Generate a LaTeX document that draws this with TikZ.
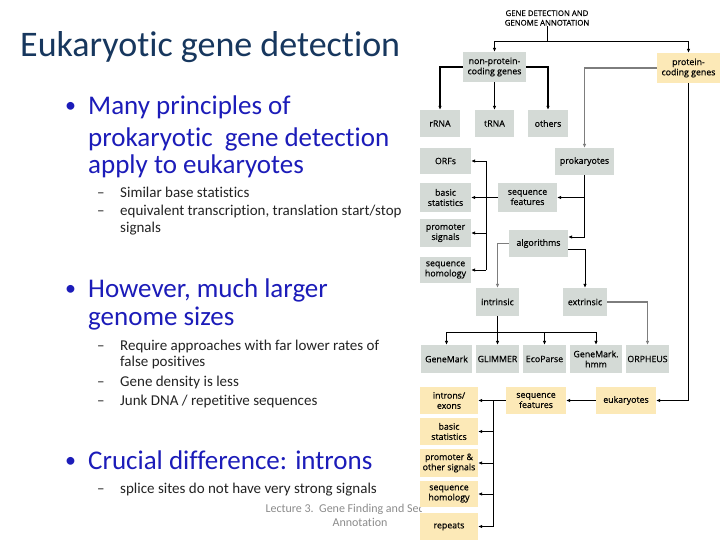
\documentclass[tikz,border=0pt]{standalone}
\usepackage{fontspec}
\setmainfont{Carlito}[Ligatures={NoCommon,NoContextual}]
\newfontfamily\diag{Open Sans}[FakeBold=0.4]
\usetikzlibrary{arrows.meta}
\definecolor{titlecol}{RGB}{23,55,94}
\definecolor{bulcol}{RGB}{28,28,185}
\definecolor{subcol}{RGB}{35,35,35}
\definecolor{footcol}{RGB}{140,140,140}
\definecolor{gboxcol}{RGB}{212,218,214}
\definecolor{yboxcol}{RGB}{252,233,183}
\definecolor{glinecol}{RGB}{125,125,125}
\begin{document}
\begin{tikzpicture}[x=1pt,y=-1pt,
  box/.style={inner sep=0pt, align=center, font=\diag\fontsize{8.8}{10.2}\selectfont, text=black},
  gbox/.style={box, fill=gboxcol},
  ybox/.style={box, fill=yboxcol},
  sz/.style 2 args={minimum width=#1, minimum height=#2},
  wire/.style={line width=0.9pt},
  conn/.style={wire, -{Latex[length=4pt,width=3.6pt]}},
  thick conn/.style={conn, line width=1.5pt},
  gconn/.style={conn, draw=glinecol, line width=1.2pt},
  ttl/.style={anchor=base west, inner sep=0pt, text=titlecol, font=\fontsize{36}{40}\selectfont},
  bul/.style={anchor=base west, inner sep=0pt, text=bulcol, font=\fontsize{27}{29}\selectfont},
  dotb/.style={anchor=base west, inner sep=0pt, text=bulcol, font=\fontsize{22}{29}\selectfont},
  sub/.style={anchor=base west, inner sep=0pt, text=subcol, font=\fontsize{15}{17}\selectfont},
  foot/.style={anchor=base, inner sep=0pt, text=footcol, font=\fontsize{12}{14}\selectfont},
]
\useasboundingbox[fill=white] (0,0) rectangle (720,540);

% ---------- slide text ----------
\node[ttl] (title) at (20,57) {Eukaryotic gene detection};

\node[dotb] (dot1) at (65,113) {•};
\node[bul] (b1a) at (88,115) {Many principles of};
\node[bul] (b1b) at (88,146.5) {prokaryotic\ \ gene detection};
\node[bul] (b1c) at (88,174) {apply to eukaryotes};
\node[sub] (d1) at (97,197) {–};
\node[sub] (s1) at (120,197) {Similar base statistics};
\node[sub] (d2) at (97,215) {–};
\node[sub] (s2) at (120,215) {equivalent transcription, translation start/stop};
\node[sub] (s3) at (120,233) {signals};

\node[dotb] (dot2) at (65,295) {•};
\node[bul] (b2a) at (88,297) {However, much larger};
\node[bul] (b2b) at (88,325) {genome sizes};
\node[sub] (d4) at (97,350) {–};
\node[sub] (s4) at (120,350) {Require approaches with far lower rates of};
\node[sub] (s5) at (120,366) {false positives};
\node[sub] (d6) at (97,386) {–};
\node[sub] (s6) at (120,386) {Gene density is less};
\node[sub] (d7) at (97,405) {–};
\node[sub] (s7) at (120,405) {Junk DNA / repetitive sequences};

\node[dotb] (dot3) at (65,467) {•};
\node[bul] (b3) at (88,469) {Crucial difference: introns};
\node[sub] (d8) at (97,493) {–};
\node[sub] (s8) at (120,493) {splice sites do not have very strong signals};

\begin{scope}
  \clip (0,0) rectangle (421,540);
  \node[foot] (f1) at (360,512) {Lecture 3.\ \ Gene Finding and Sequence};
\end{scope}
\node[foot] (f2) at (360,526) {Annotation};

% ---------- diagram ----------
\node[box, font=\diag\fontsize{7.8}{9.6}\selectfont] (top) at (547,18) {GENE DETECTION AND\\GENOME ANNOTATION};

\node[gbox, sz={63pt}{30pt}] (nonprot) at (494.5,67) {non-protein-\\coding genes};
\node[ybox, sz={63pt}{30pt}] (prot) at (688.5,68) {protein-\\coding genes};

\node[gbox, sz={40pt}{27pt}] (rrna) at (440,123.5) {rRNA};
\node[gbox, sz={39pt}{27pt}] (trna) at (494.5,123.5) {tRNA};
\node[gbox, sz={40pt}{27pt}] (others) at (548,123.5) {others};

\node[gbox, sz={51pt}{26pt}] (orfs) at (445.5,161) {ORFs};
\node[gbox, sz={59pt}{27pt}] (prok) at (584.5,161.5) {prokaryotes};
\node[gbox, sz={51pt}{29pt}] (basic) at (445.5,197.5) {basic\\statistics};
\node[gbox, sz={59pt}{29pt}] (seqf) at (527.5,197.5) {sequence\\features};
\node[gbox, sz={51pt}{28pt}] (prom) at (445.5,233) {promoter\\signals};
\node[gbox, sz={51pt}{26pt}] (homo) at (445.5,270) {sequence\\homology};
\node[gbox, sz={59pt}{27pt}] (alg) at (538.5,243.5) {algorithms};
\node[gbox, sz={43pt}{28pt}] (intr) at (497.5,302) {intrinsic};
\node[gbox, sz={44pt}{28pt}] (extr) at (585,302) {extrinsic};

\node[gbox, sz={51pt}{28pt}] (gm) at (446.5,359) {GeneMark};
\node[gbox, sz={43pt}{28pt}] (gl) at (497.5,359) {GLIMMER};
\node[gbox, sz={43pt}{28pt}] (eco) at (544.5,359) {EcoParse};
\node[gbox, sz={52pt}{28pt}] (gmh) at (596,359) {GeneMark.\\hmm};
\node[gbox, sz={43pt}{28pt}] (orph) at (647.5,359) {ORPHEUS};

\node[ybox, sz={60pt}{27pt}] (euk) at (626,400.5) {eukaryotes};
\node[ybox, sz={60pt}{27pt}] (seqf2) at (536,400.5) {sequence\\features};
\node[ybox, sz={58pt}{27pt}] (intex) at (449,400.5) {introns/\\exons};
\node[ybox, sz={58pt}{27pt}] (basic2) at (449,431.5) {basic\\statistics};
\node[ybox, sz={58pt}{28pt}] (prom2) at (449,463) {promoter \&\\other signals};
\node[ybox, sz={58pt}{26pt}] (homo2) at (449,494) {sequence\\homology};
\node[ybox, sz={58pt}{27pt}] (rep) at (449,526.5) {repeats};

% connectors
\coordinate (j0) at (547,41);
\draw[wire] (top) -- (j0);
\draw[conn] (j0) -| (nonprot.north);
\draw[conn] (j0) -| (prot.north);

\draw[thick conn] (nonprot.west) -| (rrna.north);
\draw[conn] (nonprot.south) -- (trna.north);
\draw[thick conn] (nonprot.east) -| (others.north);

\draw[gconn] (prot.west) -| (prok.north);
\draw[conn] (prot.south) |- (euk.east);

\draw[conn] (prok.south) |- ([yshift=6.5pt]alg.east);
\draw[conn] (prok.south |- seqf.east) -- (seqf.east);

\coordinate (v1top) at (486,161);
\coordinate (v1bot) at (486,270);
\draw[wire] (v1top) -- (v1bot);
\draw[conn] (v1top) -- (orfs.east);
\draw[conn] (seqf.west) -- (basic.east);
\draw[conn] (v1top |- prom.east) -- (prom.east);
\draw[conn] (v1bot) -- (homo.east);

\draw[gconn] (alg.west) -| (intr.north);
\draw[conn] ([yshift=-5.5pt]alg.east) -| (extr.north);
\draw[gconn] (extr.east) -| (orph.north);

\coordinate (h) at (497.5,332);
\draw[wire] (intr.south) -- (h);
\draw[conn] (h) -| (gm.north);
\draw[conn] (h) -| (gmh.north);
\draw[conn] (h) -- (gl.north);
\draw[conn] (eco.north |- h) -- (eco.north);

\draw[conn] (euk.west) -- (seqf2.east);
\draw[conn] (seqf2.west) -- (intex.east);
\coordinate (v2top) at (493,400.5);
\coordinate (v2bot) at (493,526.5);
\draw[wire] (v2top) -- (v2bot);
\draw[conn] (v2top |- basic2.east) -- (basic2.east);
\draw[conn] (v2top |- prom2.east) -- (prom2.east);
\draw[conn] (v2top |- homo2.east) -- (homo2.east);
\draw[conn] (v2bot) -- (rep.east);
\end{tikzpicture}
\end{document}
